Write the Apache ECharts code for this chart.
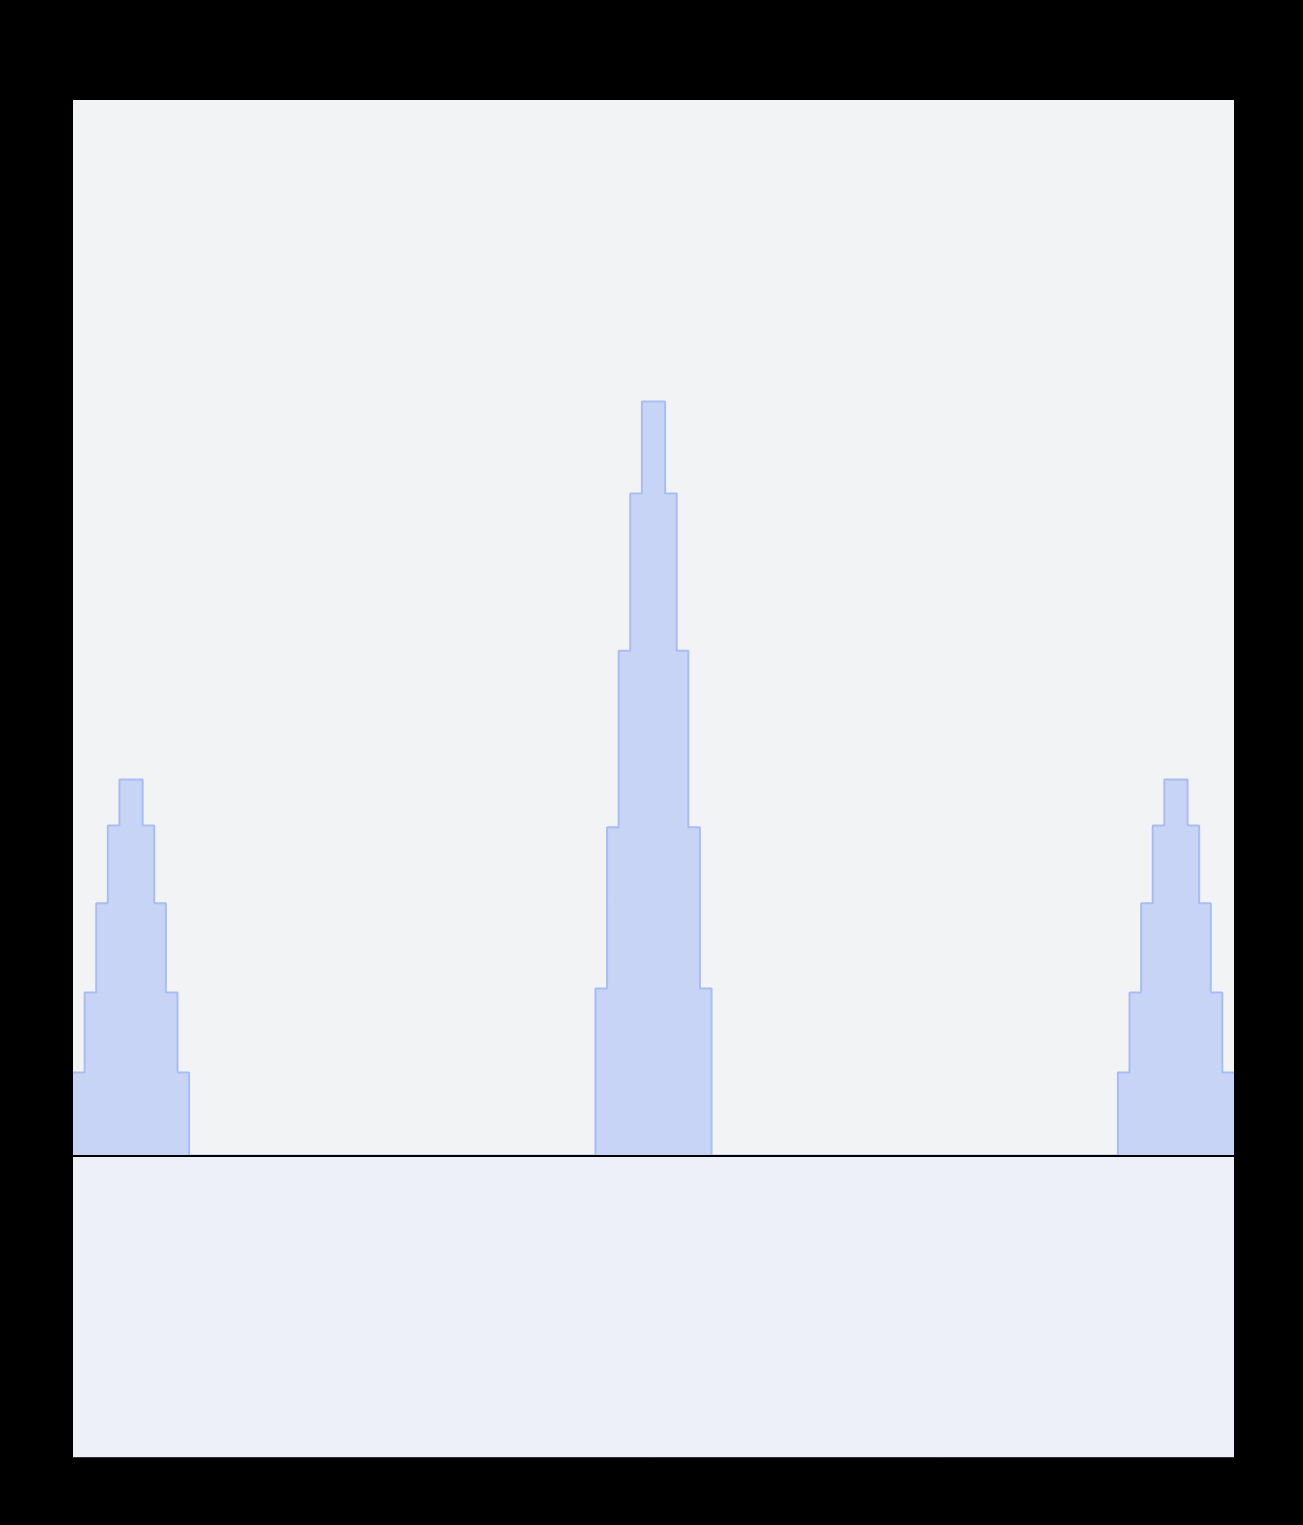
<!DOCTYPE html>
<html><head><meta charset="utf-8">
<script src="https://cdn.jsdelivr.net/npm/echarts@6/dist/echarts.min.js"></script>
<style>html,body{margin:0;padding:0;background:#000;}#c{width:1303px;height:1525px;}</style>
</head><body><div id="c"></div>
<script>
const titleText = 'sinc(dB)';
const xValues = [0,10,20,30,40,50,60,70,80,90,100,
  440,450,460,470,480,490,500,510,520,530,540,550,
  890,900,910,920,930,940,950,960,970,980,990,1000];
const yValues = [2.75,5.4,8.36,10.94,12.47,12.47,10.94,8.36,5.4,2.75,0,
  0,5.54,10.88,16.74,21.95,25.0,25.0,21.95,16.74,10.88,5.54,0,
  0,2.75,5.4,8.36,10.94,12.47,12.47,10.94,8.36,5.4,2.75,2.75];
const xTicks = [0,250,500,750,1000];
const yMin = -10, yMax = 35, yInterval = 5;

const chart = echarts.init(document.getElementById('c'));
chart.setOption({
  backgroundColor:'#000',
  animation:false,
  title:{text:titleText,left:'center',top:14,textStyle:{color:'#000',fontSize:40,fontWeight:'bold'}},
  grid:{left:73,right:69,top:100,bottom:68,show:true,backgroundColor:'#f2f3f5',borderWidth:0},
  xAxis:{type:'value',min:xTicks[0],max:xTicks[xTicks.length-1],interval:250,
    axisLine:{onZero:false,lineStyle:{color:'#333'}},axisTick:{show:false},splitLine:{show:false},
    axisLabel:{color:'#000',fontSize:40,margin:14}},
  yAxis:{type:'value',min:yMin,max:yMax,interval:yInterval,
    axisLine:{show:false},axisTick:{show:false},splitLine:{show:false},
    axisLabel:{color:'#000',fontSize:40,margin:6}},
  series:[{type:'line',step:'end',symbol:'none',
    data:xValues.map((x,i)=>[x,yValues[i]]),
    lineStyle:{color:'#a9bdf2',width:2},
    areaStyle:{color:'#c8d4f5',opacity:1},
    markLine:{silent:true,symbol:'none',label:{show:false},lineStyle:{color:'#000',type:'solid',width:2},data:[{yAxis:0}]},
    markArea:{silent:true,itemStyle:{color:'rgba(225,235,255,0.3)'},data:[[{yAxis:yMin},{yAxis:0}]]}
  }]
});
</script></body></html>
